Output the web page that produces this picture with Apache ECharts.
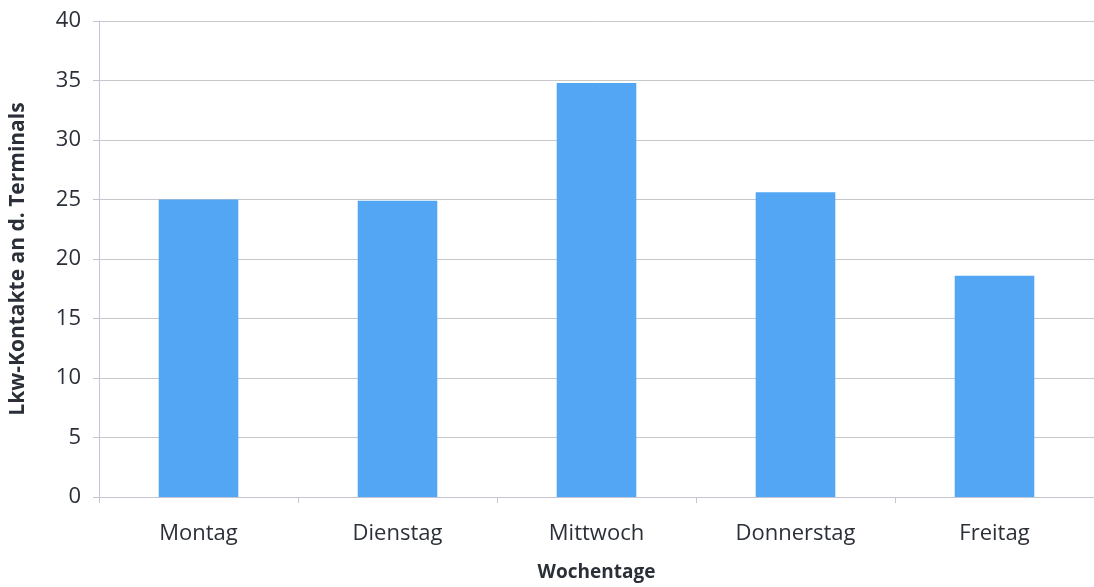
<!DOCTYPE html>
<html><head><meta charset="utf-8">
<script src="https://cdn.jsdelivr.net/npm/echarts@6/dist/echarts.min.js"></script>
<style>html,body{margin:0;padding:0;background:#fff}#c{width:1094px;height:587px}</style>
</head><body><div id="c"></div>
<script>
const categories = ['Montag', 'Dienstag', 'Mittwoch', 'Donnerstag', 'Freitag'];
const values = [25, 24.9, 34.8, 25.6, 18.6];
const yName = 'Lkw-Kontakte an d. Terminals';
const xName = 'Wochentage';

const chart = echarts.init(document.getElementById('c'), null, {renderer: 'canvas'});
const font = '"Open Sans", sans-serif';
const txt = '#2b2f38';
chart.setOption({
  animation: false,
  grid: {left: 96, top: 21, width: 1000, bottom: 86},
  xAxis: {
    type: 'category', data: categories,
    name: xName, nameLocation: 'middle', nameGap: 66,
    nameTextStyle: {fontFamily: font, fontWeight: 'bold', fontSize: 19, color: txt},
    axisLine: {lineStyle: {color: '#c4c4d4'}},
    axisTick: {show: true, alignWithLabel: false, length: 6, lineStyle: {color: '#c4c4d4'}},
    axisLabel: {fontFamily: font, fontSize: 22, color: txt, margin: 26}
  },
  yAxis: {
    type: 'value', min: 0, max: 40, interval: 5,
    name: yName, nameLocation: 'middle', nameGap: 70, nameRotate: 90,
    nameTextStyle: {fontFamily: font, fontWeight: 'bold', fontSize: 21, color: txt},
    axisLine: {show: true, lineStyle: {color: '#c4c4dc'}},
    axisTick: {show: true, length: 6, lineStyle: {color: '#c4c4d4'}},
    axisLabel: {fontFamily: font, fontSize: 22, color: txt, margin: 18},
    splitLine: {lineStyle: {color: '#c8c8cc'}}
  },
  series: [{
    type: 'bar', data: values, barWidth: '40%',
    itemStyle: {color: '#52a6f4'}
  }]
});
</script></body></html>
